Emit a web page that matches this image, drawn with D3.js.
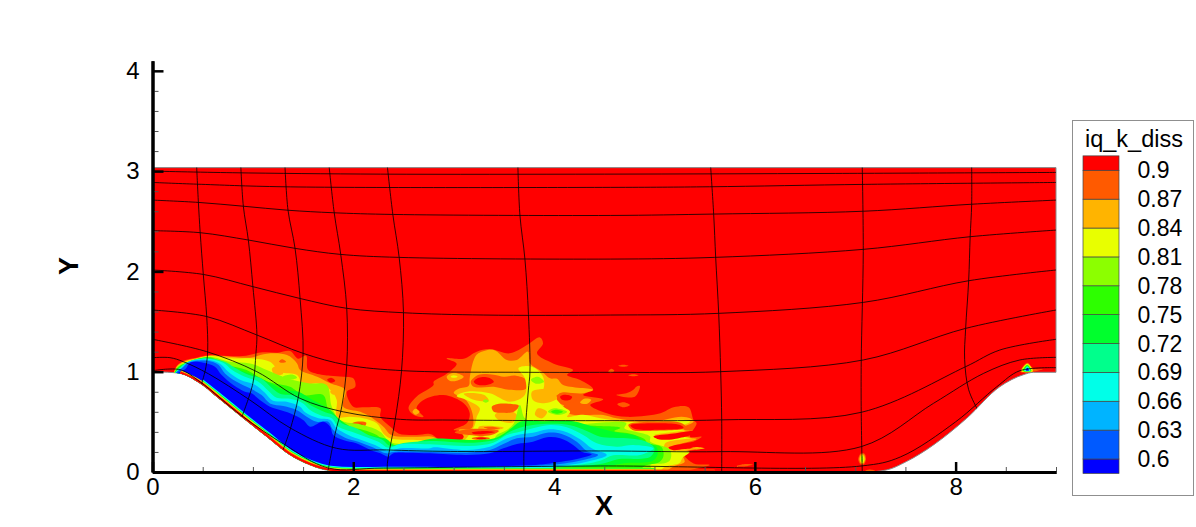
<!DOCTYPE html>
<html>
<head>
<meta charset="utf-8">
<title>iq_k_diss</title>
<script src="https://cdn.jsdelivr.net/npm/d3@7"></script>
<style>
  html, body { margin: 0; padding: 0; background: #fff; }
  text { font-family: "Liberation Sans", Arial, sans-serif; fill: #000; }
</style>
</head>
<body>
<svg id="chart" width="1196" height="527"></svg>
<script>
// ---- data, in X / Y / level units ----
var xMajor = [0, 2, 4, 6, 8];
var xMinor = [0.5, 1, 1.5, 2.5, 3, 3.5, 4.5, 5, 5.5, 6.5, 7, 7.5, 8.5, 9];
var yMajor = [0, 1, 2, 3, 4];
var yMinor = [0.2, 0.4, 0.6, 0.8, 1.2, 1.4, 1.6, 1.8, 2.2, 2.4, 2.6, 2.8, 3.2, 3.4, 3.6, 3.8];

var levels = [0.6, 0.63, 0.66, 0.69, 0.72, 0.75, 0.78, 0.81, 0.84, 0.87, 0.9];
var levelLabels = ["0.6", "0.63", "0.66", "0.69", "0.72", "0.75", "0.78", "0.81", "0.84", "0.87", "0.9"];
var levelColors = ["#0000ff", "#005aff", "#00b4ff", "#00ffe8", "#00ff8c", "#00ff2d", "#2dff00", "#8cff00", "#e8ff00", "#ffb400", "#ff5a00", "#ff0000"];
var legendTitle = "iq_k_diss";

var ductTop = 3.035;
var wall = [[0,1],[0.15,0.995],[0.274,0.983],[0.473,0.884],[0.64,0.751],[0.905,0.535],[1.138,0.352],[1.37,0.17],[1.57,0.07],[1.77,0.013],[2,0],[3,0],[4,0],[4.5,0],[5,0],[5.3,0],[5.6,0],[7.1,0],[7.31,0.02],[7.51,0.104],[7.78,0.27],[8.11,0.535],[8.44,0.85],[8.675,0.97],[8.776,0.994],[9,0.994]];

// grid lines running along the duct
var streamLines = [
  [[0,3],[0.8,2.984],[2.27,2.97],[4.5,2.97],[6.8,2.977],[9,2.987]],
  [[0,2.887],[0.44,2.87],[1.3,2.844],[4.56,2.838],[5.55,2.844],[7.1,2.868],[9,2.887]],
  [[0,2.711],[0.457,2.688],[0.905,2.65],[1.35,2.61],[1.8,2.585],[2.4,2.568],[4.56,2.558],[5.6,2.572],[7.08,2.6],[8.16,2.67],[9,2.711]],
  [[0,2.406],[0.475,2.386],[0.955,2.313],[1.42,2.23],[1.87,2.17],[2.45,2.14],[4.56,2.123],[5.6,2.14],[7.08,2.22],[8.145,2.346],[9,2.412]],
  [[0,2.014],[0.506,1.97],[1,1.848],[1.47,1.73],[1.935,1.632],[2.5,1.588],[3.3,1.565],[4.56,1.565],[5.64,1.582],[7.08,1.691],[8.13,1.907],[9,2.014]],
  [[0,1.615],[0.54,1.55],[1.04,1.366],[1.5,1.183],[1.935,1.067],[2.5,1.01],[3.745,0.994],[4.56,0.994],[5.65,1],[7.08,1.117],[8.1,1.432],[9,1.615]],
  [[0,1.323],[0.54,1.2],[1.04,1],[1.47,0.734],[1.9,0.6],[2.47,0.525],[2.965,0.518],[4.5,0.512],[5.67,0.52],[7.06,0.595],[8.1,1.05],[8.44,1.216],[9,1.323]],
  [[0,1.14],[0.174,1.14],[0.307,1.1],[0.556,0.98],[0.97,0.718],[1.37,0.44],[1.835,0.236],[2.33,0.22],[2.965,0.205],[4.46,0.21],[5.67,0.203],[7.06,0.253],[7.78,0.685],[8.28,0.984],[8.64,1.117],[9,1.143]],
  [[0,1.01],[0.274,1.02],[0.473,0.9],[0.89,0.56],[1.32,0.27],[1.75,0.04],[2.3,0.04],[4.46,0.06],[7.06,0.06],[7.45,0.15],[8,0.5],[8.41,0.85],[8.64,1.01],[9,1.04]]
];
// grid lines running across the duct
var crossLines = [
  [[0.44,3.04],[0.457,2.69],[0.475,2.386],[0.506,1.97],[0.54,1.55],[0.55,1.216],[0.533,1.05],[0.49,0.88]],
  [[0.88,3.04],[0.905,2.65],[0.955,2.31],[1,1.85],[1.04,1.37],[1.03,1.18],[1,0.884],[0.89,0.55]],
  [[1.32,3.04],[1.35,2.61],[1.42,2.23],[1.47,1.73],[1.5,1.18],[1.453,0.75],[1.37,0.419],[1.3,0.22]],
  [[1.76,3.04],[1.81,2.585],[1.875,2.17],[1.935,1.63],[1.935,1.067],[1.885,0.65],[1.82,0.385],[1.75,0.02]],
  [[2.34,3.04],[2.394,2.568],[2.457,2.14],[2.5,1.59],[2.48,1],[2.417,0.518],[2.34,0.087],[2.34,0]],
  [[3.64,3.04],[3.66,2.56],[3.71,2.12],[3.745,1.57],[3.76,1],[3.744,0.817],[3.72,0.518],[3.7,0.2],[3.7,0]],
  [[5.56,3.04],[5.59,2.57],[5.61,2.14],[5.64,1.58],[5.66,1],[5.67,0.52],[5.67,0]],
  [[7.07,3.04],[7.08,2.2],[7.06,1.117],[7.06,0.585],[7.07,0]],
  [[8.16,3.04],[8.16,2.67],[8.145,2.346],[8.13,1.907],[8.1,1.432],[8.09,1.12],[8.13,0.82],[8.22,0.62]]
];

// every main band closes underneath the wall, the clip trims it
var underWall = [[1.8,-0.05],[1.4,0.1],[0.9,0.45],[0.5,0.8],[0.22,0.96]];

var below90 = [[0.23,1.04],[0.31,1.11],[0.44,1.14],[0.57,1.166],[0.74,1.156],[0.9,1.156],[1.1,1.193],[1.25,1.19],[1.37,1.206],[1.45,1.13],[1.53,1.16],[1.55,1.02],[1.7,0.967],[1.77,0.96],[1.9,0.95],[2,0.934],[2.02,0.85],[1.935,0.8],[2,0.65],[2.1,0.645],[2.27,0.635],[2.27,0.55],[2.37,0.45],[2.45,0.385],[2.63,0.369],[2.765,0.379],[2.9,0.3],[3.06,0.319],[3.16,0.402],[3,0.419],[3.13,0.485],[3.16,0.585],[3.1,0.685],[2.9,0.767],[2.7,0.718],[2.63,0.635],[2.7,0.55],[2.6,0.57],[2.55,0.635],[2.63,0.75],[2.8,0.867],[2.8,0.9],[2.93,0.98],[3.03,1.08],[2.93,1.133],[3.1,1.13],[3.23,1.2],[3.36,1.226],[3.56,1.183],[3.73,1.266],[3.86,1.342],[3.89,1.282],[3.83,1.183],[3.99,1.083],[4.19,1.017],[4.13,0.967],[4.26,0.917],[4.39,0.824],[4.29,0.767],[4.49,0.724],[4.36,0.668],[4.525,0.585],[4.725,0.55],[5.06,0.585],[5.19,0.645],[5.34,0.645],[5.39,0.518],[5.42,0.485],[5.355,0.352],[5.47,0.352],[5.29,0.236],[5.5,0.236],[5.29,0.186],[5.39,0.086],[5.55,0.07],[5.4,0.03],[5,-0.04]];
var below87 = [[0.24,1.05],[0.32,1.105],[0.44,1.135],[0.57,1.16],[0.77,1.15],[0.97,1.14],[1.14,1.18],[1.34,1.166],[1.44,1.083],[1.47,1.017],[1.64,0.95],[1.77,0.884],[1.92,0.817],[1.9,0.651],[2.07,0.6],[2.17,0.55],[2.3,0.452],[2.38,0.369],[2.63,0.352],[2.8,0.35],[2.9,0.28],[3.06,0.3],[3.1,0.353],[3.05,0.42],[3.18,0.435],[3.19,0.57],[3.12,0.72],[3,0.79],[3.05,0.83],[3.15,0.86],[3.16,0.94],[3.2,1.117],[3.246,1.183],[3.4,1.217],[3.53,1.117],[3.63,1.117],[3.74,1.2],[3.76,1.084],[3.88,1],[3.96,0.934],[4.03,0.93],[4.09,0.868],[4.39,0.82],[4.29,0.785],[4.05,0.78],[4.03,0.7],[4.1,0.66],[4.05,0.63],[4.19,0.57],[4.49,0.568],[4.62,0.535],[4.957,0.5],[5.27,0.552],[5.355,0.535],[5.39,0.5],[5.25,0.43],[5.4,0.4],[5.25,0.35],[5.42,0.33],[5.2,0.26],[5.45,0.24],[5.28,0.19],[5.3,0.1],[5.2,0.06],[5,-0.04]];
var below84 = [[0.25,1.05],[0.33,1.1],[0.44,1.13],[0.57,1.156],[0.77,1.133],[0.97,1.133],[1.17,1.1],[1.27,1],[1.44,0.967],[1.5,0.867],[1.64,0.884],[1.77,0.82],[1.835,0.718],[1.835,0.55],[1.968,0.55],[2.1,0.535],[2.234,0.485],[2.3,0.385],[2.367,0.336],[2.63,0.319],[2.83,0.302],[2.96,0.27],[3.05,0.29],[3.12,0.33],[3.21,0.469],[3.23,0.55],[3.26,0.635],[3.13,0.718],[3.03,0.758],[3.13,0.8],[3.36,0.784],[3.56,0.7],[3.71,0.77],[3.71,0.934],[3.645,1.034],[3.78,1.05],[3.89,0.95],[3.89,0.818],[3.79,0.735],[3.93,0.8],[4.09,0.652],[4.16,0.6],[4.13,0.55],[4.29,0.57],[4.46,0.536],[4.72,0.5],[4.92,0.5],[5.29,0.52],[5.355,0.5],[5.22,0.436],[5.3,0.42],[5,0.37],[5.36,0.34],[5.11,0.29],[5.1,0.23],[5.2,0.21],[5.35,0.2],[5.28,0.14],[5.25,0.09],[5.1,0.05],[5,-0.04]];
var below81 = [[0.25,1.05],[0.34,1.095],[0.44,1.125],[0.573,1.15],[0.772,1.1],[0.972,1.083],[1.138,1.017],[1.254,0.967],[1.4,0.917],[1.553,0.884],[1.735,0.867],[1.786,0.651],[1.87,0.518],[2.1,0.468],[2.267,0.402],[2.367,0.302],[2.6,0.269],[2.9,0.253],[3.23,0.286],[3.38,0.303],[3.43,0.37],[3.53,0.42],[3.6,0.486],[3.66,0.668],[3.71,0.535],[3.84,0.5],[3.99,0.518],[4.13,0.47],[4.39,0.486],[4.72,0.486],[4.7,0.436],[4.8,0.403],[4.957,0.353],[4.957,0.303],[5.156,0.22],[5.156,0.12],[5.1,0.087],[4.96,0.07],[5,-0.04]];
var below78 = [[0.26,1.05],[0.35,1.09],[0.44,1.12],[0.573,1.143],[0.739,1.066],[0.938,1.017],[1.105,0.917],[1.204,0.884],[1.37,0.85],[1.5,0.767],[1.7,0.767],[1.75,0.618],[1.835,0.485],[2.1,0.419],[2.234,0.369],[2.367,0.253],[2.6,0.23],[2.9,0.22],[3.2,0.26],[3.38,0.28],[3.45,0.34],[3.55,0.38],[3.66,0.43],[3.7,0.49],[3.84,0.47],[4,0.49],[4.16,0.47],[4.39,0.46],[4.66,0.44],[4.6,0.41],[4.75,0.385],[4.9,0.33],[4.93,0.29],[5.07,0.25],[5.09,0.16],[5.05,0.1],[4.9,0.06],[4.8,-0.04]];
var below75 = [[0.27,1.05],[0.36,1.1],[0.54,1.14],[0.7,1.08],[0.855,1.02],[0.971,0.98],[1.09,0.93],[1.22,0.86],[1.304,0.82],[1.453,0.8],[1.57,0.734],[1.77,0.618],[1.87,0.518],[2.07,0.4],[2.2,0.36],[2.33,0.33],[2.4,0.272],[2.566,0.28],[2.765,0.33],[3.23,0.32],[3.43,0.345],[3.58,0.44],[3.66,0.5],[3.93,0.505],[4.19,0.505],[4.39,0.45],[4.6,0.4],[4.82,0.36],[4.88,0.31],[5.02,0.25],[5.03,0.17],[4.98,0.11],[4.72,0.09],[4.52,0.06],[4,0.05],[2,0.03]];
var below72 = [[0.28,1.05],[0.36,1.1],[0.54,1.135],[0.72,1.1],[0.82,1.04],[0.955,0.97],[1.087,0.93],[1.187,0.84],[1.27,0.78],[1.42,0.76],[1.57,0.668],[1.72,0.595],[1.8,0.568],[1.885,0.485],[2.02,0.44],[2.15,0.37],[2.285,0.325],[2.367,0.262],[2.5,0.29],[2.765,0.31],[3.2,0.292],[3.43,0.326],[3.56,0.402],[3.695,0.452],[3.96,0.48],[4.16,0.465],[4.325,0.41],[4.46,0.352],[4.725,0.336],[4.92,0.302],[5,0.236],[4.96,0.153],[4.625,0.125],[4.49,0.086],[4.16,0.053],[3,0.045],[2,0.03]];
var below69 = [[0.29,1.05],[0.36,1.1],[0.54,1.13],[0.705,1.09],[0.79,1.02],[0.921,0.95],[1.054,0.9],[1.154,0.81],[1.237,0.74],[1.37,0.73],[1.5,0.684],[1.57,0.618],[1.686,0.561],[1.785,0.535],[1.85,0.452],[1.985,0.402],[2.12,0.352],[2.25,0.302],[2.35,0.242],[2.466,0.276],[2.765,0.276],[3.16,0.259],[3.395,0.292],[3.53,0.369],[3.66,0.402],[3.79,0.435],[3.96,0.468],[4.126,0.445],[4.29,0.369],[4.425,0.286],[4.625,0.253],[4.79,0.269],[4.99,0.236],[4.857,0.17],[4.59,0.166],[4.46,0.113],[4.126,0.06],[3,0.045],[2,0.03]];
var below66 = [[0.3,1.05],[0.36,1.1],[0.54,1.12],[0.672,1.08],[0.755,1],[0.872,0.92],[1.02,0.87],[1.12,0.79],[1.2,0.71],[1.337,0.701],[1.47,0.651],[1.52,0.595],[1.652,0.535],[1.77,0.518],[1.835,0.435],[1.95,0.369],[2.08,0.319],[2.217,0.269],[2.35,0.209],[2.466,0.236],[2.765,0.236],[2.8,0.246],[3.13,0.219],[3.36,0.253],[3.495,0.319],[3.63,0.369],[3.79,0.392],[3.93,0.425],[4.09,0.409],[4.26,0.326],[4.375,0.236],[4.525,0.17],[4.325,0.103],[4.03,0.06],[3,0.05],[2,0.03]];
var below63 = [[0.31,1.05],[0.36,1.09],[0.54,1.11],[0.656,1.07],[0.722,0.983],[0.838,0.9],[0.971,0.834],[1.087,0.767],[1.17,0.684],[1.304,0.658],[1.436,0.618],[1.536,0.551],[1.636,0.5],[1.75,0.5],[1.8,0.418],[1.918,0.342],[2.05,0.302],[2.18,0.252],[2.33,0.186],[2.4,0.2],[2.765,0.2],[3.13,0.193],[3.36,0.219],[3.495,0.279],[3.63,0.336],[3.79,0.352],[3.93,0.392],[4.076,0.379],[4.226,0.302],[4.325,0.21],[4.44,0.17],[4.29,0.12],[3.96,0.07],[3,0.05],[2,0.03]];
var below60 = [[0.33,1.03],[0.373,1.09],[0.506,1.09],[0.622,1.05],[0.689,0.967],[0.805,0.867],[0.921,0.8],[0.988,0.784],[1.07,0.718],[1.17,0.651],[1.27,0.618],[1.37,0.585],[1.5,0.518],[1.57,0.452],[1.7,0.5],[1.77,0.452],[1.8,0.369],[1.9,0.319],[2.03,0.286],[2.17,0.22],[2.27,0.186],[2.35,0.153],[2.4,0.186],[2.53,0.193],[2.765,0.186],[3.13,0.17],[3.36,0.186],[3.495,0.236],[3.63,0.279],[3.79,0.302],[3.93,0.346],[4.06,0.336],[4.19,0.27],[4.275,0.203],[4.375,0.176],[4.26,0.136],[3.96,0.086],[3.79,0.07],[3.13,0.05],[2,0.03]];

// blotches: [level, outline], painted straight after the band named in paintOrder
var spotsOver87 = [
  [0.9, [[3.17,0.9],[3.25,0.97],[3.4,0.97],[3.5,0.95],[3.62,0.96],[3.72,0.92],[3.72,0.83],[3.55,0.82],[3.4,0.85],[3.2,0.85]]],
  [0.95, [[3.2,0.9],[3.25,0.94],[3.35,0.94],[3.4,0.9],[3.34,0.87],[3.24,0.87]]],
  [0.9, [[4.02,0.75],[4.08,0.79],[4.2,0.77],[4.22,0.71],[4.1,0.7]]],
  [0.95, [[4.06,0.75],[4.1,0.77],[4.18,0.75],[4.16,0.72],[4.08,0.72]]],
  [0.87, [[2.93,0.95],[3,0.99],[3.1,0.95],[3.03,0.91],[2.96,0.91]]],
  [0.84, [[2.97,0.95],[3,0.965],[3.04,0.95],[3,0.94]]],
  [0.87, [[4.26,0.69],[4.3,0.73],[4.37,0.72],[4.33,0.68]]],
  [0.87, [[2.59,0.6],[2.62,0.63],[2.66,0.6],[2.62,0.57]]],
  [0.95, [[1.74,0.92],[1.78,0.94],[1.82,0.91],[1.78,0.89]]],
  [0.9, [[4.54,1],[4.57,1.03],[4.6,1.01],[4.57,0.99]]],
  [0.9, [[4.64,1.06],[4.69,1.07],[4.74,1.06],[4.69,1.05]]],
  [0.9, [[4.74,0.965],[4.79,0.975],[4.84,0.965],[4.79,0.955]]],
  [0.9, [[4.82,0.85],[4.855,0.857],[4.805,0.75],[4.62,0.768],[4.72,0.785],[4.79,0.82]]],
  [0.9, [[4.63,0.675],[4.69,0.695],[4.756,0.668],[4.69,0.645]]],
  [0.9, [[5.82,0.06],[5.9,0.08],[5.98,0.075],[5.9,0.055]]],
  [0.9, [[7.1,0.012],[7.14,0.025],[7.2,0.012],[7.14,0]]]
];
var spotsOver84 = [
  [0.87, [[3.41,0.568],[3.53,0.618],[3.63,0.568],[3.595,0.495],[3.46,0.51]]],
  [0.87, [[3.78,0.8],[3.96,0.818],[4.03,0.735],[3.9,0.685],[3.79,0.718]]],
  [0.87, [[3.84,0.635],[3.93,0.6],[3.88,0.535],[3.81,0.57]]],
  [0.87, [[3.1,0.78],[3.3,0.77],[3.35,0.71],[3.2,0.72]]],
  [0.87, [[1.19,1.03],[1.27,1.06],[1.3,0.98],[1.22,0.97]]],
  [0.9, [[1.26,1.1],[1.29,1.125],[1.33,1.1],[1.29,1.09]]],
  [0.9, [[3.38,0.65],[3.45,0.68],[3.55,0.68],[3.65,0.66],[3.6,0.6],[3.48,0.59],[3.4,0.6]]],
  [0.87, [[3.25,0.45],[3.35,0.46],[3.5,0.44],[3.4,0.41],[3.25,0.415]]],
  [0.9, [[3.3,0.445],[3.38,0.45],[3.46,0.435],[3.36,0.425]]],
  [0.9, [[3.01,0.395],[3.2,0.43],[3.45,0.41],[3.35,0.363],[3.15,0.37]]],
  [0.95, [[3.18,0.395],[3.3,0.41],[3.41,0.4],[3.3,0.38],[3.2,0.38]]],
  [0.9, [[3.18,0.335],[3.27,0.353],[3.36,0.335],[3.27,0.32]]],
  [0.95, [[3.22,0.335],[3.27,0.345],[3.33,0.335],[3.27,0.328]]],
  [0.9, [[2.9,0.275],[3,0.296],[3.15,0.29],[3.08,0.263],[2.95,0.263]]],
  [0.95, [[2.98,0.278],[3.06,0.288],[3.13,0.285],[3.06,0.27]]],
  [0.87, [[1.55,0.72],[1.6,0.75],[1.65,0.7],[1.6,0.68]]],
  [0.9, [[1.58,0.72],[1.6,0.735],[1.63,0.71],[1.6,0.695]]],
  [0.87, [[1.52,0.82],[1.57,0.85],[1.62,0.8],[1.57,0.78]]],
  [0.87, [[1.77,0.8],[1.81,0.83],[1.84,0.79],[1.8,0.77]]],
  [0.9, [[1.94,0.45],[2.03,0.5],[2.13,0.49],[2.1,0.44],[2,0.42]]],
  [0.95, [[2,0.46],[2.08,0.48],[2.1,0.46],[2.03,0.44]]],
  [0.87, [[2,0.35],[2.1,0.39],[2.17,0.375],[2.1,0.33]]],
  // tongues on the right end of the wake
  [0.9, [[4.74,0.47],[4.96,0.5],[5.26,0.49],[5.32,0.44],[4.96,0.41],[4.78,0.42]]],
  [0.95, [[4.76,0.465],[4.96,0.485],[5.25,0.47],[5.29,0.44],[4.96,0.42],[4.8,0.43]]],
  [0.95, [[4.99,0.355],[5.19,0.385],[5.38,0.41],[5.45,0.4],[5.2,0.33],[5.05,0.325]]],
  [0.95, [[5.14,0.245],[5.29,0.285],[5.45,0.31],[5.55,0.3],[5.55,0.26],[5.3,0.23],[5.18,0.22]]],
  [0.87, [[5.36,0.236],[5.42,0.25],[5.5,0.236],[5.42,0.225]]]
];
var spotsOver81 = [
  [0.81, [[3.94,0.6],[4,0.635],[4.13,0.6],[4.05,0.568]]],
  [0.78, [[3.97,0.6],[4.02,0.62],[4.09,0.6],[4.03,0.58]]],
  [0.81, [[3.77,0.92],[3.84,0.95],[3.9,0.9],[3.82,0.88]]],
  [0.81, [[3.29,0.708],[3.32,0.725],[3.35,0.708],[3.32,0.69]]],
  [0.81, [[1.63,0.76],[1.69,0.8],[1.74,0.74],[1.68,0.71]]],
  [0.81, [[1.3,0.95],[1.4,0.97],[1.44,0.94],[1.36,0.92]]]
];
// the two small spots on the right side
var rightSpots = [
  [0.9, [[7.03,0.125],[7.05,0.18],[7.07,0.19],[7.095,0.18],[7.107,0.125],[7.09,0.08],[7.07,0.07],[7.05,0.08]]],
  [0.87, [[7.04,0.127],[7.055,0.17],[7.07,0.18],[7.088,0.17],[7.1,0.127],[7.085,0.09],[7.07,0.08],[7.055,0.09]]],
  [0.84, [[7.05,0.128],[7.06,0.165],[7.07,0.17],[7.08,0.165],[7.09,0.128],[7.08,0.095],[7.07,0.09],[7.06,0.095]]],
  [0.81, [[7.06,0.13],[7.07,0.16],[7.08,0.13],[7.07,0.1]]],
  [0.9, [[8.648,1],[8.714,1.09],[8.78,1.03],[8.87,1.027],[8.77,1]]],
  [0.84, [[8.655,1.005],[8.714,1.08],[8.77,1.005]]],
  [0.78, [[8.67,1.007],[8.714,1.07],[8.755,1.007]]],
  [0.69, [[8.685,1.01],[8.714,1.055],[8.745,1.01]]],
  [0.6, [[8.7,1.012],[8.714,1.04],[8.73,1.012]]]
];

var mainBands = [[0.9, below90], [0.87, below87], [0.84, below84], [0.81, below81], [0.78, below78], [0.75, below75], [0.72, below72], [0.69, below69], [0.66, below66], [0.63, below63], [0.6, below60]];

// thin layer along the wall: value and how far along it goes
var wallLayerValues = [0.68, 0.74, 0.83, 0.89, 0.95];
var wallLayerStarts = [0.47, 0.47, 0.27, 0.27, 0.27];
var wallLayerEnds = [4.4, 5, 5.2, 5.6, 5.6];

// ---- scales ----
var xScale = d3.scaleLinear().domain([0, 9]).range([152.5, 1056]);
var yScale = d3.scaleLinear().domain([0, 4.1]).range([472, 60.8]);
var levelY = d3.scaleLinear().domain([0.6, 0.9]).range([459, 170.3]);
var colorScale = d3.scaleThreshold().domain(levels).range(levelColors);
var bandColor = function (level) { return colorScale(level - 0.001); };

var svg = d3.select("#chart");

var toPoint = function (p) { return [xScale(p[0]), yScale(p[1])]; };
var smoothClosed = d3.line().curve(d3.curveCatmullRomClosed.alpha(0.5));
var smoothOpen = d3.line().curve(d3.curveCatmullRom.alpha(0.5));
var wallLine = d3.line().curve(d3.curveMonotoneX);

// ---- duct outline ----
function ductPath() {
  var top = "M" + xScale(0) + "," + yScale(ductTop) + "L" + xScale(9) + "," + yScale(ductTop);
  var under = wallLine(wall.slice().reverse().map(toPoint)).replace(/^M/, "L");
  return top + under + "Z";
}

svg.append("clipPath").attr("id", "ductClip").append("path").attr("d", ductPath());

svg.append("path")
  .attr("d", ductPath())
  .attr("fill", levelColors[11])
  .attr("stroke", "#8a8a8a")
  .attr("stroke-width", 1);

var flood = svg.append("g").attr("clip-path", "url(#ductClip)");

function paintBlobs(blobs) {
  flood.append("g").selectAll("path")
    .data(blobs).enter().append("path")
    .attr("d", function (d) { return smoothClosed(d[1].map(toPoint)); })
    .attr("fill", function (d) { return bandColor(d[0]); });
}

mainBands.forEach(function (b) {
  paintBlobs([[b[0], b[1].concat(underWall)]]);
  if (b[0] == 0.87) paintBlobs(spotsOver87);
  if (b[0] == 0.84) paintBlobs(spotsOver84);
  if (b[0] == 0.81) paintBlobs(spotsOver81);
});
paintBlobs(rightSpots);

// wall layer, half of each stroke falls outside the clip
var wallLayerWidths = [10, 8, 6.5, 5, 3.5];
wallLayerValues.forEach(function (v, i) {
  var part = wall.filter(function (p) { return p[0] >= wallLayerStarts[i] && p[0] <= wallLayerEnds[i]; });
  flood.append("path")
    .attr("d", wallLine(part.map(toPoint)))
    .attr("fill", "none")
    .attr("stroke", colorScale(v))
    .attr("stroke-width", wallLayerWidths[i]);
});

// ---- mesh lines ----
var mesh = svg.append("g").attr("clip-path", "url(#ductClip)");
mesh.selectAll("path")
  .data(streamLines.concat(crossLines)).enter().append("path")
  .attr("d", function (d) { return smoothOpen(d.map(toPoint)); })
  .attr("fill", "none")
  .attr("stroke", "#000")
  .attr("stroke-width", 0.8);

// ---- axes ----
var xMinorAxis = d3.axisBottom(xScale).tickValues(xMinor).tickSize(-5).tickSizeOuter(0).tickFormat("");
var yMinorAxis = d3.axisLeft(yScale).tickValues(yMinor).tickSize(-6).tickSizeOuter(0).tickFormat("");
var xAxis = d3.axisBottom(xScale).tickValues(xMajor).tickSize(-10).tickSizeOuter(0).tickPadding(6).tickFormat(d3.format("d"));
var yAxis = d3.axisLeft(yScale).tickValues(yMajor).tickSize(-11).tickSizeOuter(0).tickPadding(13).tickFormat(d3.format("d"));

function styleAxis(g, width, color) {
  g.selectAll(".tick line").attr("stroke", color).attr("stroke-width", width);
  g.selectAll(".domain").attr("stroke", "#000").attr("stroke-width", 3);
  g.selectAll("text").attr("font-size", 24).attr("font-family", "Liberation Sans, Arial, sans-serif").attr("fill", "#000");
}

svg.append("g").attr("transform", "translate(0," + yScale(0) + ")").call(xMinorAxis).call(styleAxis, 1, "#555");
svg.append("g").attr("transform", "translate(" + xScale(0) + ",0)").call(yMinorAxis).call(styleAxis, 1, "#555");
svg.append("g").attr("transform", "translate(0," + yScale(0) + ")").call(xAxis).call(styleAxis, 2.5, "#000");
svg.append("g").attr("transform", "translate(" + xScale(0) + ",0)").call(yAxis).call(styleAxis, 2.5, "#000");

svg.append("text").attr("x", 604).attr("y", 514.5)
  .attr("text-anchor", "middle").attr("font-size", 27).attr("font-weight", "bold").text("X");
svg.append("text").attr("transform", "translate(78,266) rotate(-90)")
  .attr("text-anchor", "middle").attr("font-size", 27).attr("font-weight", "bold").text("Y");

// ---- legend ----
var legend = svg.append("g");
legend.append("rect")
  .attr("x", 1072.5).attr("y", 120.5).attr("width", 121).attr("height", 375)
  .attr("fill", "#fff").attr("stroke", "#8f8f8f").attr("stroke-width", 1);
legend.append("text").attr("x", 1085).attr("y", 147).attr("font-size", 23.5).text(legendTitle);

var halfStep = 0.015;
var edges = [levels[0] - halfStep].concat(levels, [levels[levels.length - 1] + halfStep]);
legend.selectAll("rect.swatch")
  .data(levelColors).enter().append("rect")
  .attr("class", "swatch")
  .attr("x", 1083).attr("width", 36)
  .attr("y", function (d, i) { return levelY(edges[i + 1]); })
  .attr("height", function (d, i) { return levelY(edges[i]) - levelY(edges[i + 1]); })
  .attr("fill", function (d) { return d; })
  .attr("stroke", "#444").attr("stroke-width", 0.7);

legend.selectAll("text.lab")
  .data(levels).enter().append("text")
  .attr("class", "lab")
  .attr("x", 1137.5)
  .attr("y", function (d) { return levelY(d) + 8; })
  .attr("font-size", 23)
  .text(function (d, i) { return levelLabels[i]; });
</script>
</body>
</html>
